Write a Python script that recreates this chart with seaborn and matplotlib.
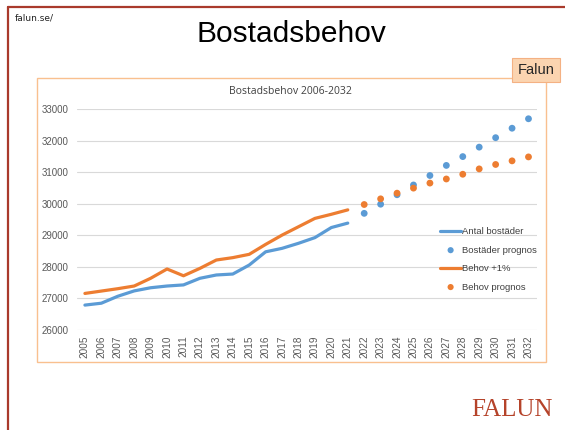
import matplotlib
matplotlib.use("Agg")

import matplotlib.pyplot as plt
import numpy as np
import pandas as pd
import seaborn as sns
from matplotlib.patches import Rectangle
from matplotlib.lines import Line2D

# historic years and values
years_hist = list(range(2005, 2022))
antal_bostader = [26790, 26850, 27070, 27240, 27340, 27395, 27430, 27640, 27745, 27775,
                  28060, 28480, 28590, 28750, 28930, 29250, 29390]
behov_1pct = [27160, 27235, 27310, 27395, 27640, 27935, 27720, 27955, 28220, 28295,
              28400, 28715, 29010, 29275, 29540, 29670, 29810]

# forecast years and values
years_prog = list(range(2022, 2033))
bostader_prognos = [29700, 29990, 30290, 30600, 30900, 31220, 31500, 31800, 32100, 32400, 32700]
behov_prognos = [29980, 30160, 30340, 30500, 30660, 30790, 30940, 31110, 31250, 31365, 31490]

BLUE = "#5b9bd5"
ORANGE = "#ed7d31"
GREY_TXT = "#595959"
SLIDE_RED = "#a93a2c"

sns.set_theme(style="white")
plt.rcParams["font.family"] = ["Liberation Sans", "DejaVu Sans"]

hist = pd.DataFrame({"year": years_hist, "antal": antal_bostader, "behov": behov_1pct})
prog = pd.DataFrame({"year": years_prog, "bost": bostader_prognos, "behov": behov_prognos})

fig = plt.figure(figsize=(5.65, 4.3), dpi=100)
fig.patch.set_facecolor("white")

# slide frame
fig.add_artist(Line2D([8 / 565, 8 / 565], [0, 1 - 7 / 430], color=SLIDE_RED, lw=1.6))
fig.add_artist(Line2D([8 / 565, 1], [1 - 7 / 430, 1 - 7 / 430], color=SLIDE_RED, lw=1.6))

fig.text(15 / 565, 1 - 18 / 430, "falun.se/", fontsize=6.5, va="center", ha="left",
         family="DejaVu Sans", color="#222222")
fig.text(291 / 565, 1 - 34 / 430, "Bostadsbehov", fontsize=21.5, ha="center", va="center",
         color="black")

# chart frame
fig.add_artist(Rectangle((37 / 565, 1 - 362 / 430), (546 - 37) / 565, (362 - 78) / 430,
                         transform=fig.transFigure, fill=False, edgecolor="#f9c08f", lw=1.0))
fig.text(290 / 565, 1 - 92 / 430, "Bostadsbehov 2006-2032", fontsize=7.5, ha="center",
         va="center", color="#404040", family=["Open Sans", "DejaVu Sans"])

ax = fig.add_axes([76.7 / 565, 1 - 330 / 430, (536.7 - 76.7) / 565, (330 - 109.3) / 430])

sns.lineplot(data=hist, x="year", y="antal", ax=ax, color=BLUE, lw=2.3, label="Antal bostäder")
sns.scatterplot(data=prog, x="year", y="bost", ax=ax, color=BLUE, s=24, edgecolor="none",
                label="Bostäder prognos")
sns.lineplot(data=hist, x="year", y="behov", ax=ax, color=ORANGE, lw=2.3, label="Behov +1%")
sns.scatterplot(data=prog, x="year", y="behov", ax=ax, color=ORANGE, s=24, edgecolor="none",
                label="Behov prognos")

all_years = years_hist + years_prog
ax.set_xlim(2004.5, 2032.5)
ax.set_ylim(26000, 33000)
ax.set_xticks(all_years)
ax.set_xticklabels([str(y) for y in all_years], rotation=90, fontsize=7.2, color=GREY_TXT)
ax.set_yticks(np.arange(26000, 33001, 1000))
ax.set_yticklabels([str(v) for v in range(26000, 33001, 1000)], fontsize=7, color=GREY_TXT)
ax.tick_params(axis="y", length=0, pad=6)
ax.tick_params(axis="x", length=0, pad=4)
ax.yaxis.grid(True, color="#d9d9d9", lw=0.8)
ax.set_axisbelow(True)
for s in ax.spines.values():
    s.set_visible(False)
ax.set_xlabel("")
ax.set_ylabel("")

ax.legend(loc="center left", bbox_to_anchor=(0.78, 0.32), frameon=False, fontsize=6.8,
          handlelength=2.2, handletextpad=0.1, labelspacing=1.0, borderpad=0,
          labelcolor="#404040", markerscale=0.9)

# Falun tag
fig.text(536 / 565, 1 - 70 / 430, "Falun", fontsize=10.5, ha="center", va="center",
         bbox=dict(boxstyle="square,pad=0.35", facecolor="#fbd4b0", edgecolor="#f4b183", lw=0.8))

# logo text
fig.text(512 / 565, 1 - 410 / 430, "FALUN", fontsize=18, ha="center", va="center",
         color="#b5432a", family=["Liberation Serif", "DejaVu Serif"])

fig.savefig("out.png", dpi=100)
